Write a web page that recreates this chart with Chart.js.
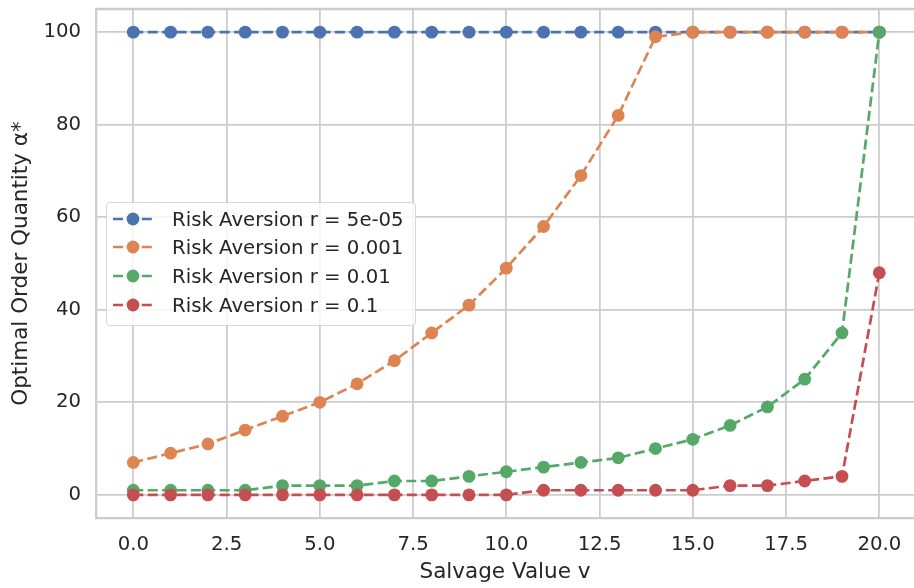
<!DOCTYPE html>
<html>
<head>
<meta charset="utf-8">
<script src="https://cdn.jsdelivr.net/npm/chart.js@4.4.0/dist/chart.umd.min.js"></script>
<style>
  html, body { margin: 0; padding: 0; background: #fff; overflow: hidden; }
  #wrap { position: relative; width: 914px; height: 588px; }
  #chart { position: absolute; left: 0; top: 0; }
  #legend {
    position: absolute; left: 106px; top: 202px; width: 308px; height: 122px;
    border: 1px solid #d6d6d6; border-radius: 4px; background: rgba(255,255,255,0.8);
    font-family: "DejaVu Sans"; font-size: 19.7px; color: #262626;
  }
  .row { position: absolute; left: 6px; height: 28px; display: flex; align-items: center; white-space: nowrap; }
  .row svg { margin-right: 19px; }
</style>
</head>
<body>
<div id="wrap">
  <canvas id="chart" width="914" height="588"></canvas>
  <div id="legend"></div>
</div>
<script>
// salvage values v (x axis)
const salvage = [0, 1, 2, 3, 4, 5, 6, 7, 8, 9, 10, 11, 12, 13, 14, 15, 16, 17, 18, 19, 20];
const xTicks = [0, 2.5, 5, 7.5, 10, 12.5, 15, 17.5, 20];
const yTicks = [0, 20, 40, 60, 80, 100];

// risk aversion levels
const riskLabels = ["5e-05", "0.001", "0.01", "0.1"];

// optimal order quantity per risk aversion
const alphaR5e05 = [100, 100, 100, 100, 100, 100, 100, 100, 100, 100, 100, 100, 100, 100, 100, 100, 100, 100, 100, 100, 100];
const alphaR0001 = [7, 9, 11, 14, 17, 20, 24, 29, 35, 41, 49, 58, 69, 82, 99, 100, 100, 100, 100, 100, 100];
const alphaR001 = [1, 1, 1, 1, 2, 2, 2, 3, 3, 4, 5, 6, 7, 8, 10, 12, 15, 19, 25, 35, 100];
const alphaR01 = [0, 0, 0, 0, 0, 0, 0, 0, 0, 0, 0, 1, 1, 1, 1, 1, 2, 2, 3, 4, 48];

const seriesValues = [alphaR5e05, alphaR0001, alphaR001, alphaR01];
const colors = ["#4c72b0", "#dd8452", "#55a868", "#c44e52"];

const textColor = "#262626";
const gridColor = "#cccccc";
const fontFamily = "'DejaVu Sans', sans-serif";

const datasets = seriesValues.map((vals, i) => ({
  label: "Risk Aversion r = " + riskLabels[i],
  data: salvage.map((v, j) => ({ x: v, y: vals[j] })),
  borderColor: colors[i],
  backgroundColor: colors[i],
  pointBackgroundColor: colors[i],
  pointBorderWidth: 0,
  pointRadius: 6.4,
  borderWidth: 2.7,
  borderDash: [10, 4.4],
  tension: 0,
  fill: false,
  order: seriesValues.length - i
}));

// top spine (the right one falls just outside the picture)
const frame = {
  id: "frame",
  beforeDatasetsDraw(chart) {
    const { ctx, chartArea: a } = chart;
    ctx.save();
    ctx.strokeStyle = gridColor;
    ctx.lineWidth = 2.3;
    ctx.beginPath();
    ctx.moveTo(a.left, a.top);
    ctx.lineTo(a.right, a.top);
    ctx.stroke();
    ctx.restore();
  }
};

// drop the label overflow padding so the plot area sits where padding says
function noPad(scale) {
  scale.paddingTop = 0;
  scale.paddingBottom = 0;
  scale.paddingLeft = 0;
  scale.paddingRight = 0;
}

const ctx = document.getElementById("chart").getContext("2d");
const chart = new Chart(ctx, {
  type: "line",
  data: { datasets: datasets },
  plugins: [frame],
  options: {
    responsive: false,
    animation: false,
    layout: { autoPadding: false, padding: { top: 9, right: 0, left: 0, bottom: 0 } },
    plugins: { legend: { display: false }, tooltip: { enabled: false } },
    scales: {
      x: {
        type: "linear",
        min: -1,
        max: 20.93,
        afterBuildTicks: (scale) => { scale.ticks = xTicks.map(v => ({ value: v })); },
        afterFit: (scale) => { scale.height = 70; noPad(scale); },
        ticks: {
          padding: 15,
          color: textColor,
          font: { family: fontFamily, size: 19.7 },
          callback: (v) => Number(v).toFixed(1)
        },
        grid: { color: gridColor, lineWidth: 1.8, drawTicks: false },
        border: { display: true, color: gridColor, width: 2.3 },
        title: {
          display: true,
          text: "Salvage Value v",
          color: textColor,
          font: { family: fontFamily, size: 21.5 },
          padding: { top: 0, bottom: 3 }
        }
      },
      y: {
        type: "linear",
        min: -5,
        max: 105,
        afterBuildTicks: (scale) => { scale.ticks = yTicks.map(v => ({ value: v })); },
        afterFit: (scale) => { scale.width = 96; noPad(scale); },
        ticks: {
          padding: 15,
          color: textColor,
          font: { family: fontFamily, size: 19.7 },
          callback: (v) => String(v)
        },
        grid: { color: gridColor, lineWidth: 1.8, drawTicks: false },
        border: { display: true, color: gridColor, width: 2.3 },
        title: {
          display: true,
          text: "Optimal Order Quantity α*",
          color: textColor,
          font: { family: fontFamily, size: 21.5 },
          padding: { top: 9, bottom: 0 }
        }
      }
    }
  }
});

// legend (matplotlib style, centre left)
const legend = document.getElementById("legend");
const rowCenters = [16, 44, 73, 102];
datasets.forEach((ds, i) => {
  const row = document.createElement("div");
  row.className = "row";
  row.style.top = (rowCenters[i] - 14) + "px";
  const c = colors[i];
  row.innerHTML =
    '<svg width="40" height="16" viewBox="0 0 40 16">' +
    '<line x1="0" y1="8" x2="40" y2="8" stroke="' + c + '" stroke-width="2.7" stroke-dasharray="10 4.4"/>' +
    '<circle cx="20" cy="8" r="6.4" fill="' + c + '"/></svg>' +
    '<span>' + ds.label + '</span>';
  legend.appendChild(row);
});
</script>
</body>
</html>
